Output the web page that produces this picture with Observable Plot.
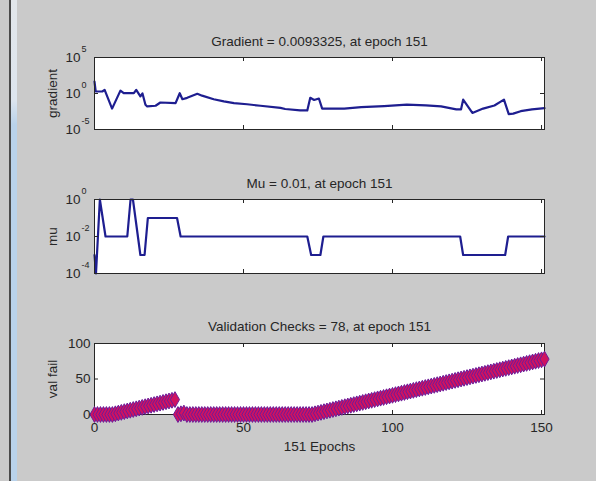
<!DOCTYPE html>
<html><head><meta charset="utf-8">
<script src="https://cdn.jsdelivr.net/npm/d3@7"></script>
<script src="https://cdn.jsdelivr.net/npm/@observablehq/plot@0.6"></script>
<style>
html,body{margin:0;padding:0;background:#cacaca;}
#fig{position:relative;width:596px;height:481px;background:#cacaca;overflow:hidden;}
.panel{position:absolute;left:0;}
#edge1{position:absolute;left:9px;top:0;width:2px;height:481px;background:#4a4a4a;}
#edge2{position:absolute;left:11px;top:0;width:6px;height:481px;background:linear-gradient(#e2e6ea 0,#dde5ee 100px,#b9d2ea 125px,#b9d2ea 100%);}
</style></head>
<body><div id="fig"><div id="edge1"></div><div id="edge2"></div></div>
<script>
// ---------- data ----------
const xTicks = [0, 50, 100, 150];

const gradTitle = "Gradient = 0.0093325, at epoch 151";
const gradExp = [-5, 0, 5];
const gradEpoch = [0, 0.4, 2.6, 3.4, 5.9, 8.7, 9.8, 13.2, 14, 15.4, 16.1, 17.1, 17.7, 20.5, 22.1, 27.2, 28.6, 29.5, 31.1, 34.5, 36.1, 40, 43.4, 46.8, 51.2, 55.7, 62.4, 64, 69, 71.4, 72.4, 73.7, 75.3, 76.4, 83.8, 89.5, 97.2, 104.8, 111.2, 116.3, 121.4, 123, 123.7, 126.8, 130.4, 134.2, 137.4, 139, 140.5, 143, 146.8, 151];
const gradValue = [45, 1.9, 1.9, 3.2, 0.008, 2.5, 1.1, 1.1, 3.2, 0.4, 1.0, 0.028, 0.016, 0.02, 0.056, 0.045, 1.1, 0.16, 0.25, 0.9, 0.5, 0.16, 0.08, 0.045, 0.032, 0.02, 0.01, 0.007, 0.0045, 0.0045, 0.25, 0.125, 0.2, 0.008, 0.008, 0.0126, 0.018, 0.028, 0.022, 0.016, 0.0063, 0.0063, 0.14, 0.002, 0.008, 0.022, 0.14, 0.0014, 0.0016, 0.0035, 0.0063, 0.0093325];

const muTitle = "Mu = 0.01, at epoch 151";
const muExp = [-4, -2, 0];
const muEpoch = [0, 0.5, 1.8, 3.7, 11, 12.1, 12.9, 15.4, 16.8, 17.9, 27.7, 28.9, 71.4, 72.7, 75.8, 76.8, 122.7, 123.7, 137.8, 138.8, 151];
const muValue = [0.001, 0.0001, 1, 0.01, 0.01, 1, 1, 0.001, 0.001, 0.1, 0.1, 0.01, 0.01, 0.001, 0.001, 0.01, 0.01, 0.001, 0.001, 0.01, 0.01];

const valTitle = "Validation Checks = 78, at epoch 151";
const valTicks = [0, 50, 100];
const valFail = [
  0, 0, 0, 0, 0, 0, 0,
  1, 2, 3, 4, 5, 6, 7, 8, 9, 10, 11, 12, 13, 14, 15, 16, 17, 18, 19, 20, 21,
  0, 1, 2,
  0, 0, 0, 0, 0, 0, 0, 0, 0, 0,
  0, 0, 0, 0, 0, 0, 0, 0, 0, 0,
  0, 0, 0, 0, 0, 0, 0, 0, 0, 0,
  0, 0, 0, 0, 0, 0, 0, 0, 0, 0,
  0, 0, 0,
  1, 2, 3, 4, 5, 6, 7, 8, 9, 10, 11, 12, 13, 14, 15, 16, 17, 18, 19, 20,
  21, 22, 23, 24, 25, 26, 27, 28, 29, 30, 31, 32, 33, 34, 35, 36, 37, 38, 39, 40,
  41, 42, 43, 44, 45, 46, 47, 48, 49, 50, 51, 52, 53, 54, 55, 56, 57, 58, 59, 60,
  61, 62, 63, 64, 65, 66, 67, 68, 69, 70, 71, 72, 73, 74, 75, 76, 77, 78
];
const xLabel = "151 Epochs";

// ---------- styling ----------
const W = 596, ML = 94, MR = 52, FW = W - ML - MR;
const FONT = '"Liberation Sans", Arial, Helvetica, sans-serif';
const FS = 13.5;
const INK = "#262626";
const LINE = "#1e1e90";
const style = {background: "transparent", fontFamily: FONT, fontSize: FS + "px", color: INK, overflow: "visible"};

function boxTicks(fh, yTicks) {
  return [
    Plot.tickX(xTicks, {x: d => d, insetTop: fh - 4, stroke: INK}),
    Plot.tickX(xTicks, {x: d => d, insetBottom: fh - 4, stroke: INK}),
    Plot.tickY(yTicks, {y: d => d, insetRight: FW - 4, stroke: INK}),
    Plot.tickY(yTicks, {y: d => d, insetLeft: FW - 4, stroke: INK})
  ];
}
function titleMark(t, dy) {
  return Plot.text([t], {text: d => d, frameAnchor: "top", lineAnchor: "middle", dy, fontSize: FS, fill: INK});
}
function yLabel(t) {
  return Plot.text([t], {text: d => d, frameAnchor: "left", textAnchor: "middle", lineAnchor: "middle", dx: -42, rotate: -90, fontSize: FS, fill: INK});
}
function logAxis(ticks, exps) {
  return [
    Plot.axisY({ticks, tickFormat: () => "10", tickSize: 0, tickPadding: 14, fontSize: FS, label: null}),
    Plot.text(ticks, {y: d => d, text: (d, i) => String(exps[i]), frameAnchor: "left", dx: -13, dy: -8, textAnchor: "start", fontSize: 9, fill: INK})
  ];
}
function place(svg, top) {
  svg.classList.add("panel");
  svg.style.top = top + "px";
  document.getElementById("fig").appendChild(svg);
}

// ---------- panel 1: gradient ----------
const gradTicks = gradExp.map(e => Math.pow(10, e));
const p1 = Plot.plot({
  width: W, height: 150, marginLeft: ML, marginRight: MR, marginTop: 57, marginBottom: 21,
  style,
  x: {domain: [0, 151], axis: null},
  y: {type: "log", domain: [1e-5, 1e5]},
  marks: [
    Plot.frame({fill: "white"}),
    Plot.line(gradValue, {x: gradEpoch, y: gradValue, stroke: LINE, strokeWidth: 2.2, strokeLinejoin: "round"}),
    ...boxTicks(72, gradTicks),
    Plot.frame({stroke: INK}),
    ...logAxis(gradTicks, gradExp),
    titleMark(gradTitle, -16),
    yLabel("gradient")
  ]
});
place(p1, 0);

// ---------- panel 2: mu ----------
const muTicks = muExp.map(e => Math.pow(10, e));
const p2 = Plot.plot({
  width: W, height: 150, marginLeft: ML, marginRight: MR, marginTop: 49, marginBottom: 27,
  style,
  x: {domain: [0, 151], axis: null},
  y: {type: "log", domain: [1e-4, 1]},
  marks: [
    Plot.frame({fill: "white"}),
    Plot.line(muValue, {x: muEpoch, y: muValue, stroke: LINE, strokeWidth: 2.2, strokeLinejoin: "round"}),
    ...boxTicks(74, muTicks),
    Plot.frame({stroke: INK}),
    ...logAxis(muTicks, muExp),
    titleMark(muTitle, -16),
    yLabel("mu")
  ]
});
place(p2, 150);

// ---------- panel 3: validation checks ----------
const p3 = Plot.plot({
  width: W, height: 181, marginLeft: ML, marginRight: MR, marginTop: 43, marginBottom: 67,
  style,
  x: {domain: [0, 151]},
  y: {domain: [0, 100]},
  marks: [
    Plot.frame({fill: "white"}),
    ...boxTicks(71, valTicks),
    Plot.frame({stroke: INK}),
    Plot.dot(valFail, {x: (d, i) => i, y: d => d, symbol: "diamond", r: 4.8, fill: "#cf1260", stroke: "#6b1c9c", strokeWidth: 1}),
    Plot.axisX({ticks: xTicks, tickSize: 0, tickPadding: 8, fontSize: FS, label: null}),
    Plot.axisY({ticks: valTicks, tickSize: 0, tickPadding: 4, fontSize: FS, label: null}),
    titleMark(valTitle, -17),
    Plot.text([xLabel], {text: d => d, frameAnchor: "bottom", lineAnchor: "middle", dy: 32, fontSize: FS, fill: INK}),
    yLabel("val fail")
  ]
});
place(p3, 300);
</script></body></html>
